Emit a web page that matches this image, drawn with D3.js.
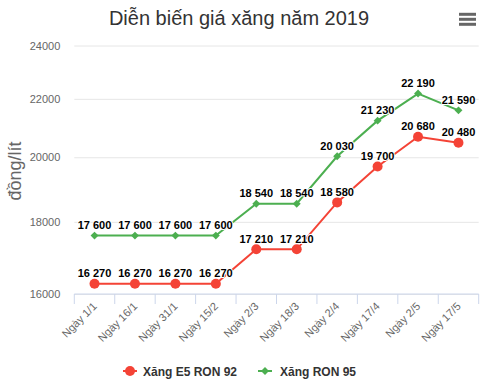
<!DOCTYPE html>
<html><head><meta charset="utf-8">
<script src="https://cdn.jsdelivr.net/npm/d3@7"></script>
<style>body{margin:0;background:#fff;}svg{display:block;font-family:"Liberation Sans",Arial,sans-serif;}</style>
</head><body>
<svg id="c" width="480" height="387"></svg>
<script>
const categories = ["Ngày 1/1","Ngày 16/1","Ngày 31/1","Ngày 15/2","Ngày 2/3","Ngày 18/3","Ngày 2/4","Ngày 17/4","Ngày 2/5","Ngày 17/5"];
const ron92 = [16270,16270,16270,16270,17210,17210,18580,19700,20680,20480];
const ron95 = [17600,17600,17600,17600,18540,18540,20030,21230,22190,21590];
const yTicks = [16000,18000,20000,22000,24000];
const seriesNames = ["Xăng E5 RON 92","Xăng RON 95"];
const colors = ["#f44336","#4caf50"];

const svg = d3.select("#c");
const pL = 74.3, pR = 478.7, pT = 45.5, pB = 294;
const x = d3.scaleBand().domain(categories).range([pL, pR]);
const y = d3.scaleLog().domain([16000,24000]).range([pB, pT]);

svg.append("text").attr("x",239).attr("y",24.5).attr("text-anchor","middle")
  .attr("font-size",20).attr("fill","#333").text("Diễn biến giá xăng năm 2019");

// hamburger
[14.3,19.3,24.3].forEach(yy=>svg.append("rect").attr("x",459).attr("y",yy-1.5).attr("width",17).attr("height",3).attr("fill","#666"));

// grid
const yAxis = d3.axisLeft(y).tickValues(yTicks).tickFormat(d3.format("d")).tickSize(-(pR-pL)).tickPadding(14);
const gy = svg.append("g").attr("transform",`translate(${pL},0)`).call(yAxis);
gy.select(".domain").remove();
gy.selectAll("line").attr("stroke","#e6e6e6");
gy.selectAll("text").attr("fill","#666").attr("font-size",11).attr("font-family","Liberation Sans, Arial, sans-serif").attr("dy","0.32em");

// y title
svg.append("text").attr("transform","translate(21,171) rotate(-90)").attr("text-anchor","middle")
  .attr("font-size",18).attr("fill","#666").text("đồng/lít");

// x axis
const gx = svg.append("g").attr("transform",`translate(0,${pB})`);
gx.append("line").attr("x1",pL).attr("x2",pR).attr("stroke","#ccd6eb");
const tickPos = categories.map(c=>x(c)).concat([pR]);
gx.selectAll("line.t").data(tickPos).enter().append("line").attr("class","t")
  .attr("x1",d=>d).attr("x2",d=>d).attr("y1",0).attr("y2",10).attr("stroke","#ccd6eb");
gx.selectAll("text").data(categories).enter().append("text")
  .attr("transform",d=>`translate(${x(d)+x.bandwidth()/2+3},${13}) rotate(-45)`)
  .attr("text-anchor","end").attr("font-size",11).attr("fill","#666").text(d=>d);

const cx = c=>x(c)+x.bandwidth()/2;
const line = d3.line().x((d,i)=>cx(categories[i])).y(d=>y(d));
const data = [ron92, ron95];
data.forEach((vals,si)=>{
  svg.append("path").attr("d",line(vals)).attr("fill","none").attr("stroke",colors[si]).attr("stroke-width",2);
  vals.forEach((v,i)=>{
    if(si===0) svg.append("circle").attr("cx",cx(categories[i])).attr("cy",y(v)).attr("r",5).attr("fill",colors[si]);
    else svg.append("path").attr("d",d3.symbol(d3.symbolDiamond2,40)()).attr("transform",`translate(${cx(categories[i])},${y(v)})`).attr("fill",colors[si]);
  });
});
const fmt = v=>d3.format(",")(v).replace(",", " ");
data.forEach((vals,si)=>{
  vals.forEach((v,i)=>{
    svg.append("text").attr("x",cx(categories[i])).attr("y",y(v)-6.5).attr("text-anchor","middle")
      .attr("font-size",11).attr("font-weight","bold").attr("fill","#000")
      .attr("stroke","#fff").attr("stroke-width",2).attr("paint-order","stroke").attr("stroke-linejoin","round")
      .text(fmt(v));
  });
});

// legend
const leg = [{x:123,tx:143},{x:258,tx:280}];
seriesNames.forEach((n,si)=>{
  const g = svg.append("g");
  g.append("line").attr("x1",leg[si].x).attr("x2",leg[si].x+14).attr("y1",371).attr("y2",371).attr("stroke",colors[si]).attr("stroke-width",2);
  if(si===0) g.append("circle").attr("cx",leg[si].x+7).attr("cy",371).attr("r",5).attr("fill",colors[si]);
  else g.append("path").attr("d",d3.symbol(d3.symbolDiamond2,40)()).attr("transform",`translate(${leg[si].x+7},371)`).attr("fill",colors[si]);
  g.append("text").attr("x",leg[si].tx).attr("y",375.5).attr("font-size",12).attr("font-weight","bold").attr("fill","#333").text(n);
});
</script>
</body></html>
